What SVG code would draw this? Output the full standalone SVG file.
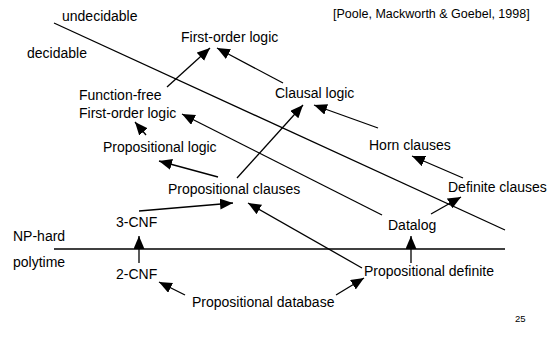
<svg xmlns="http://www.w3.org/2000/svg" width="552" height="345" viewBox="0 0 552 345">
<style>
text { font-family: "Liberation Sans", Arial, Helvetica, sans-serif; font-size: 14px; fill: #000; }
.cite { font-size: 12.5px; }
.pg { font-size: 9.5px; }
.bound { stroke: #000; stroke-width: 1.3; fill: none; }
.arr { stroke: #000; stroke-width: 1.3; fill: none; marker-end: url(#ah); }
</style>
<defs>
<marker id="ah" markerUnits="userSpaceOnUse" markerWidth="14" markerHeight="12" refX="13" refY="5.5" orient="auto">
<path d="M0,0 L13,5.5 L0,11 z" fill="#000"/>
</marker>
</defs>
<rect width="552" height="345" fill="#fff"/>
<g id="boundaries">
<line class="bound" x1="54" y1="23" x2="505" y2="230"/>
<line class="bound" x1="54" y1="249" x2="505" y2="249"/>
</g>
<g id="region-labels">
<text x="62" y="21">undecidable</text>
<text x="27" y="58">decidable</text>
<text x="13" y="241">NP-hard</text>
<text x="13" y="267">polytime</text>
<text class="cite" x="333" y="17.5">[Poole, Mackworth &amp; Goebel, 1998]</text>
<text class="pg" x="515" y="322">25</text>
</g>
<g id="connectors">
<line class="arr" x1="167" y1="87" x2="210" y2="48"/>
<line class="arr" x1="283" y1="83" x2="217" y2="48"/>
<line class="arr" x1="237" y1="178" x2="303" y2="105"/>
<line class="arr" x1="378" y1="128" x2="314" y2="105"/>
<line class="arr" x1="463" y1="178" x2="412" y2="156"/>
<line class="arr" x1="431" y1="214" x2="461" y2="197"/>
<line class="arr" x1="382" y1="215" x2="182" y2="114"/>
<line class="arr" x1="218" y1="177" x2="159" y2="161"/>
<line class="arr" x1="146" y1="135" x2="135" y2="122"/>
<line class="arr" x1="362" y1="268" x2="248" y2="203"/>
<line class="arr" x1="139" y1="211" x2="233" y2="203"/>
<line class="arr" x1="139" y1="263" x2="139" y2="236"/>
<line class="arr" x1="411" y1="263" x2="411" y2="236"/>
<line class="arr" x1="185" y1="295" x2="159" y2="282"/>
<line class="arr" x1="336" y1="295" x2="364" y2="278"/>
</g>
<g id="n-fol"><text x="181" y="42">First-order logic</text></g>
<g id="n-clausal"><text x="275" y="98">Clausal logic</text></g>
<g id="n-fffol"><text x="79" y="100">Function-free</text><text x="79" y="118">First-order logic</text></g>
<g id="n-proplogic"><text x="103" y="152">Propositional logic</text></g>
<g id="n-horn"><text x="369" y="150">Horn clauses</text></g>
<g id="n-propclauses"><text x="168" y="194">Propositional clauses</text></g>
<g id="n-definite"><text x="448" y="192">Definite clauses</text></g>
<g id="n-3cnf"><text x="116" y="227">3-CNF</text></g>
<g id="n-datalog"><text x="388" y="230">Datalog</text></g>
<g id="n-2cnf"><text x="116" y="279">2-CNF</text></g>
<g id="n-propdef"><text x="364" y="276">Propositional definite</text></g>
<g id="n-propdb"><text x="192" y="307">Propositional database</text></g>
</svg>
